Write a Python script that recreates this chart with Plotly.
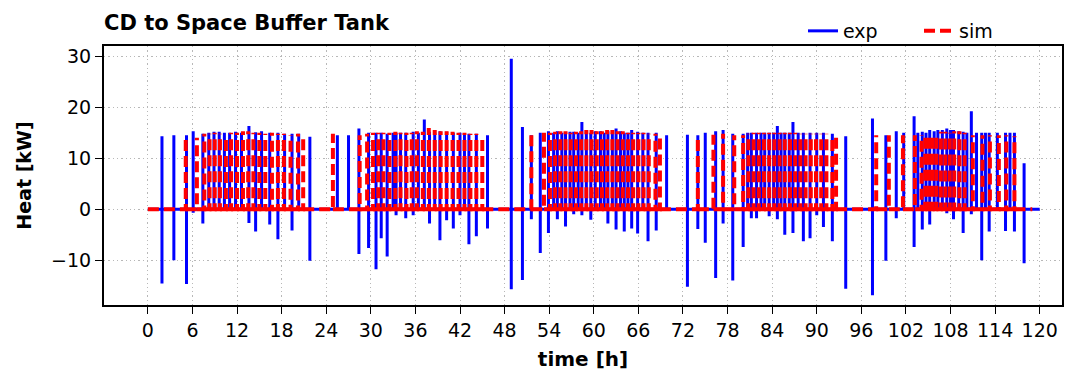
import plotly.graph_objects as go

# ---------------- data ----------------
title_text = "CD to Space Buffer Tank"
x_ticks = list(range(0, 121, 6))
y_ticks = [-10, 0, 10, 20, 30]

# measured (exp): spike time [h], peak [kW], dip [kW]
exp_t = [1.9, 3.5, 5.2, 6.1, 7.4, 8.2, 8.9, 9.6, 10.3, 11.0, 11.8, 12.6, 13.6, 14.5, 15.3,
         16.4, 17.5, 18.4, 19.4, 20.3, 21.8,
         25.5, 27.0, 28.4, 29.7, 30.7, 31.4, 32.2, 33.0, 33.4, 34.0, 34.7, 35.7, 36.4, 37.2,
         37.9, 38.6, 39.3, 40.2, 41.1, 42.0, 42.6, 43.2, 44.2, 45.7,
         48.9, 50.4, 51.6, 52.8, 53.9, 54.6, 55.1, 55.7, 56.2, 56.8, 57.3, 57.9, 58.4, 59.0,
         59.6, 60.2, 60.9, 61.4, 61.9, 62.5, 63.0, 63.6, 64.1, 64.6, 65.1, 65.9, 66.6, 67.3,
         68.4, 69.8,
         72.6, 74.0, 75.0, 76.4, 77.4, 78.7, 80.1, 80.7, 81.2, 81.9, 82.5, 83.0, 83.6, 84.2,
         84.7, 85.2, 85.7, 86.3, 86.8, 87.5, 88.2, 89.1, 90.0, 90.9, 92.1, 93.9,
         97.5, 99.3, 100.7, 101.7, 103.1, 103.6, 104.2, 104.7, 105.2, 105.8, 106.3, 106.9,
         107.5, 108.0, 108.4, 109.1, 109.7, 110.2, 110.8, 111.5, 112.2, 112.7, 113.2, 114.3,
         115.4, 116.0, 116.6, 117.9]
exp_peak = [14.3, 14.5, 14.5, 15.3, 14.8, 15.0, 15.2, 15.2, 15.0, 15.0, 15.2, 15.0, 16.3, 15.1, 15.3,
            15.0, 15.0, 14.8, 14.8, 14.8, 14.2,
            14.5, 14.5, 15.8, 15.0, 15.0, 15.0, 14.8, 15.0, 15.0, 15.0, 15.0, 15.2, 15.0, 17.6,
            15.2, 15.0, 15.3, 15.2, 15.0, 15.0, 14.8, 14.8, 14.8, 14.5,
            29.5, 16.1, 14.5, 15.0, 15.3, 15.0, 15.3, 15.0, 15.0, 15.2, 15.2, 15.0, 17.1, 15.2,
            15.0, 15.3, 15.3, 15.0, 15.3, 15.0, 15.8, 15.3, 15.0, 15.0, 15.5, 15.2, 15.0, 15.0,
            15.0, 14.5,
            14.6, 14.5, 15.0, 15.3, 15.5, 14.8, 14.8, 15.0, 15.0, 15.0, 15.0, 15.0, 15.0, 15.0,
            16.3, 15.0, 15.0, 15.0, 17.1, 15.0, 15.0, 15.0, 15.0, 15.0, 14.8, 14.3,
            17.8, 14.5, 15.3, 15.0, 18.2, 15.0, 15.2, 15.0, 15.5, 15.3, 15.5, 15.5,
            15.8, 15.5, 15.5, 15.3, 15.2, 15.0, 19.2, 15.0, 15.0, 15.0, 15.0, 15.0,
            15.0, 15.0, 15.0, 9.0]
exp_dip = [-14.6, -10.0, -14.7, -0.7, -2.8, 0, 0, 0, 0, 0, 0, 0, -2.7, -4.4, 0,
           -3.0, -5.9, 0, -4.2, 0, -10.1,
           0, 0, -8.8, -7.6, -11.8, -5.7, -9.3, 0, -1.2, 0, -1.8, -1.2, 0, 0,
           -2.8, 0, -6.1, -2.2, -3.8, -1.2, 0, -6.9, -5.3, -3.8,
           -15.7, -13.9, -2.0, -8.6, -4.7, 0, -2.0, 0, -3.4, 0, -1.0, 0, -1.2, 0,
           -2.1, 0, 0, 0, -2.8, 0, -4.0, 0, -4.4, 0, -3.8, -4.8, 0, -6.3,
           -4.2, 0,
           -15.2, -3.9, -6.6, -13.5, -2.8, -14.0, -7.4, 0, -1.8, -1.8, 0, 0, -1.4, 0,
           -2.0, 0, -5.0, 0, -4.7, 0, -6.3, -5.7, -1.2, -3.5, -6.3, -15.6,
           -16.9, -10.1, -1.8, 0, -7.4, 0, -4.0, 0, -3.0, 0, 0, 0,
           -0.8, 0, -2.0, 0, -4.7, 0, -1.0, 0, -10.0, 0, -4.4, 0,
           -4.3, 0, -4.4, -10.6]
exp_end = 120.0

# simulated (sim): spike time [h], peak [kW]
sim_t = [5.1, 6.6, 7.6, 8.3, 9.0, 9.7, 10.5, 11.2, 12.0, 12.8, 13.5, 14.2, 15.0, 15.8, 16.7,
         17.5, 18.3, 19.2, 20.2, 20.9,
         24.9, 28.5, 29.5, 30.3, 31.0, 31.7, 32.5, 33.3, 34.0, 34.8, 35.5, 36.2, 37.0, 37.8,
         38.6, 39.4, 40.2, 41.0, 41.8, 42.6, 43.4, 44.2, 45.0,
         51.6, 53.3, 54.1, 54.8, 55.5, 56.2, 56.9, 57.6, 58.3, 59.0, 59.7, 60.4, 61.1, 61.8,
         62.5, 63.2, 63.9, 64.6, 65.3, 66.0, 66.7, 67.4, 68.3, 68.9,
         74.0, 76.1, 77.4, 78.9, 80.1, 80.8, 81.5, 82.2, 82.9, 83.6, 84.3, 85.0, 85.7, 86.4,
         87.1, 87.8, 88.5, 89.2, 89.9, 90.6, 91.3, 92.1, 92.6,
         98.0, 99.7, 101.6, 103.2, 104.1, 104.6, 105.1, 105.6, 106.1, 106.7, 107.3, 107.9,
         108.5, 109.2, 109.9, 111.0, 112.3, 113.3, 114.5, 115.5, 116.6]
sim_peak = [14.5, 14.0, 14.8, 14.8, 15.0, 14.8, 14.5, 15.0, 15.0, 15.3, 15.3, 15.0, 15.0, 14.8, 15.0,
            14.8, 14.8, 14.5, 14.8, 14.5,
            14.8, 14.5, 14.8, 15.0, 15.0, 15.0, 15.0, 15.2, 15.0, 15.0, 15.0, 15.3, 15.2, 15.9,
            15.5, 15.3, 15.3, 15.2, 15.0, 15.0, 14.8, 14.8, 14.5,
            14.8, 15.0, 15.0, 15.2, 15.3, 15.3, 15.0, 15.2, 15.3, 15.5, 15.5, 15.3, 15.3, 15.5,
            15.5, 15.3, 15.3, 15.0, 15.0, 15.0, 15.0, 14.8, 14.8, 14.5,
            14.5, 14.6, 14.8, 14.5, 14.5, 14.8, 15.0, 15.0, 15.0, 15.0, 15.0, 15.0, 15.0, 15.0,
            15.0, 14.8, 14.8, 14.8, 14.8, 14.8, 14.8, 14.5, 14.5,
            14.5, 14.5, 14.5, 14.5, 14.5, 15.0, 15.0, 15.0, 15.0, 15.2, 15.2, 15.0,
            15.3, 15.3, 15.0, 14.5, 14.5, 14.5, 14.5, 14.5, 14.3]
sim_end = 119.0

# ---------------- build the polylines from the arrays ----------------
ex, ey = [0.0], [0.0]
for t, p, d in zip(exp_t, exp_peak, exp_dip):
    ex += [t, t]
    ey += [0.0, p]
    if d != 0:
        ex.append(t)
        ey.append(d)
    ex.append(t)
    ey.append(0.0)
ex.append(exp_end)
ey.append(0.0)

# sim: baseline piece + up-stroke per spike (separate sub-paths so dashes stay visible)
sx, sy = [], []
prev = 0.0
for t, p in zip(sim_t, sim_peak):
    sx += [prev, t, t, None]
    sy += [0.0, 0.0, p, None]
    prev = t
sx += [prev, sim_end]
sy += [0.0, 0.0]

fig = go.Figure()
fig.add_trace(go.Scatter(x=ex, y=ey, mode="lines", name="exp",
                         line=dict(color="#0000ff", width=3)))
fig.add_trace(go.Scatter(x=sx, y=sy, mode="lines", name="sim", connectgaps=False,
                         line=dict(color="#ff0000", width=4, dash="11px,5px")))

font_family = "DejaVu Sans"
fig.update_layout(
    width=1075, height=372,
    margin=dict(l=104, r=13, t=46, b=67, autoexpand=False),
    paper_bgcolor="white", plot_bgcolor="white",
    font=dict(family=font_family, size=19, color="black"),
    title=dict(text="<b>" + title_text + "</b>", x=104 / 1075, xanchor="left",
               y=1 - 23 / 372, yanchor="middle",
               font=dict(family=font_family, size=21, color="black")),
    legend=dict(orientation="h", xref="container", yref="container",
                x=803 / 1075, xanchor="left", y=1 - 31 / 372, yanchor="middle",
                font=dict(size=19), bgcolor="rgba(0,0,0,0)",
                entrywidth=71, entrywidthmode="pixels"),
    showlegend=True,
)
grid = dict(showgrid=True, gridcolor="#b8b8b8", griddash="1.3px,3px", gridwidth=1.3)
fig.update_xaxes(range=[-5.9, 123], tickvals=x_ticks, ticktext=[str(v) for v in x_ticks],
                 ticks="outside", ticklen=7, tickwidth=1.3, tickcolor="black",
                 showline=True, linecolor="black", linewidth=2, mirror=True,
                 zeroline=False, tickfont=dict(size=19), automargin=False, **grid,
                 title=dict(text="<b>time [h]</b>", font=dict(size=20), standoff=12))
fig.update_yaxes(range=[-18.8, 32], tickvals=y_ticks,
                 ticktext=["\u221210", "0", "10", "20", "30"],
                 ticks="outside", ticklen=7, tickwidth=1.3, tickcolor="black",
                 showline=True, linecolor="black", linewidth=2, mirror=True,
                 zeroline=False, tickfont=dict(size=19), automargin=False, **grid,
                 title=dict(text="<b>Heat [kW]</b>", font=dict(size=19), standoff=14))

fig.write_html("out.html")
